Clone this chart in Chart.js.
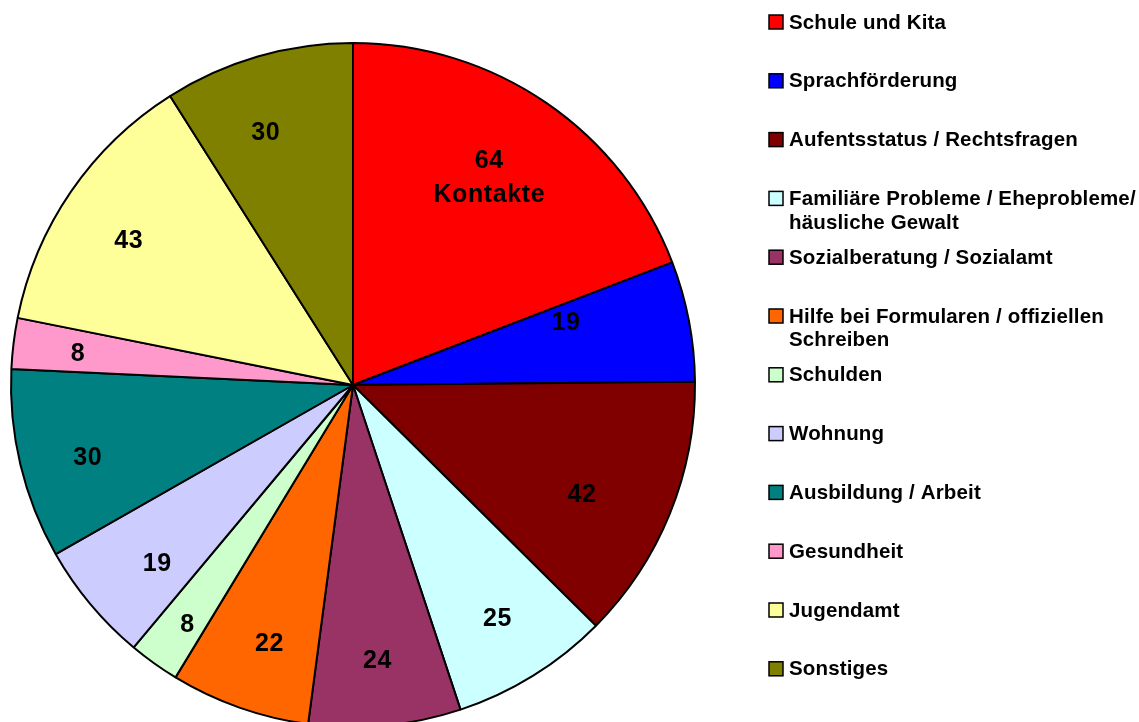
<!DOCTYPE html>
<html>
<head>
<meta charset="utf-8">
<script src="https://cdn.jsdelivr.net/npm/chart.js@4/dist/chart.umd.min.js"></script>
<style>
  html, body { margin: 0; padding: 0; background: #fff; overflow: hidden; }
  #wrap { width: 1139px; height: 722px; overflow: hidden; }
</style>
</head>
<body>
<div id="wrap"><canvas id="pieChart" width="1139" height="770"></canvas></div>
<script>
// data
var categories = [
    'Schule und Kita',
    'Sprachförderung',
    'Aufentsstatus / Rechtsfragen',
    'Familiäre Probleme / Eheprobleme/\nhäusliche Gewalt',
    'Sozialberatung / Sozialamt',
    'Hilfe bei Formularen / offiziellen\nSchreiben',
    'Schulden',
    'Wohnung',
    'Ausbildung / Arbeit',
    'Gesundheit',
    'Jugendamt',
    'Sonstiges'
];
var contacts = [64, 19, 42, 25, 24, 22, 8, 19, 30, 8, 43, 30];
var firstLabelSuffix = 'Kontakte';

var sliceColors = ['#FF0000', '#0000FF', '#800000', '#CCFFFF', '#993366', '#FF6600',
                   '#CCFFCC', '#CCCCFF', '#008080', '#FF99CC', '#FFFF99', '#808000'];

// where the value labels sit: [fraction of radius, angle nudge in degrees]
var labelPlace = [
    [0.73, -1.4], [0.65, -5.9], [0.74, 3.1], [0.80, -0.1], [0.805, 0.3], [0.79, -1.4],
    [0.847, -0.7], [0.772, -2.3], [0.803, -1.6], [0.81, -0.2], [0.782, -1.5], [0.784, -2.8]
];

var valueLabels = {
    id: 'valueLabels',
    afterDatasetsDraw: function(chart) {
        var ctx = chart.ctx;
        var meta = chart.getDatasetMeta(0);
        ctx.save();
        ctx.fillStyle = '#000';
        ctx.font = 'bold 25px "Liberation Sans", Arial, sans-serif';
        ctx.letterSpacing = '0.6px';
        ctx.textAlign = 'center';
        ctx.textBaseline = 'middle';
        meta.data.forEach(function(arc, i) {
            var p = arc.getProps(['x', 'y', 'startAngle', 'endAngle', 'outerRadius'], true);
            var mid = (p.startAngle + p.endAngle) / 2 + labelPlace[i][1] * Math.PI / 180;
            var r = p.outerRadius * labelPlace[i][0];
            var x = p.x + Math.cos(mid) * r;
            var y = p.y + Math.sin(mid) * r + 2; // digits sit a bit high with 'middle'
            if (i === 0) {
                ctx.fillText(String(contacts[i]), x, y - 17);
                ctx.fillText(firstLabelSuffix, x, y + 17);
            } else {
                ctx.fillText(String(contacts[i]), x, y);
            }
        });
        ctx.restore();
    }
};

var sideLegend = {
    id: 'sideLegend',
    afterDraw: function(chart) {
        var ctx = chart.ctx;
        ctx.save();
        ctx.font = 'bold 20.5px "Liberation Sans", Arial, sans-serif';
        ctx.letterSpacing = '0.15px';
        ctx.textBaseline = 'middle';
        ctx.textAlign = 'left';
        categories.forEach(function(name, i) {
            var cy = 22 + i * 58.8;
            ctx.fillStyle = sliceColors[i];
            ctx.fillRect(769, cy - 7, 14, 14);
            ctx.strokeStyle = '#000';
            ctx.lineWidth = 1.5;
            ctx.strokeRect(769, cy - 7, 14, 14);
            ctx.fillStyle = '#000';
            name.split('\n').forEach(function(line, j) {
                ctx.fillText(line, 789, cy + 1 + j * 23.5);
            });
        });
        ctx.restore();
    }
};

var ctx = document.getElementById('pieChart').getContext('2d');
new Chart(ctx, {
    type: 'pie',
    data: {
        labels: categories,
        datasets: [{
            data: contacts,
            backgroundColor: sliceColors,
            borderColor: '#000',
            borderWidth: 2
        }]
    },
    options: {
        responsive: false,
        animation: false,
        layout: {
            padding: { left: 10, right: 443, top: 42, bottom: 42 }
        },
        plugins: {
            legend: { display: false },
            tooltip: { enabled: false }
        }
    },
    plugins: [valueLabels, sideLegend]
});
</script>
</body>
</html>
